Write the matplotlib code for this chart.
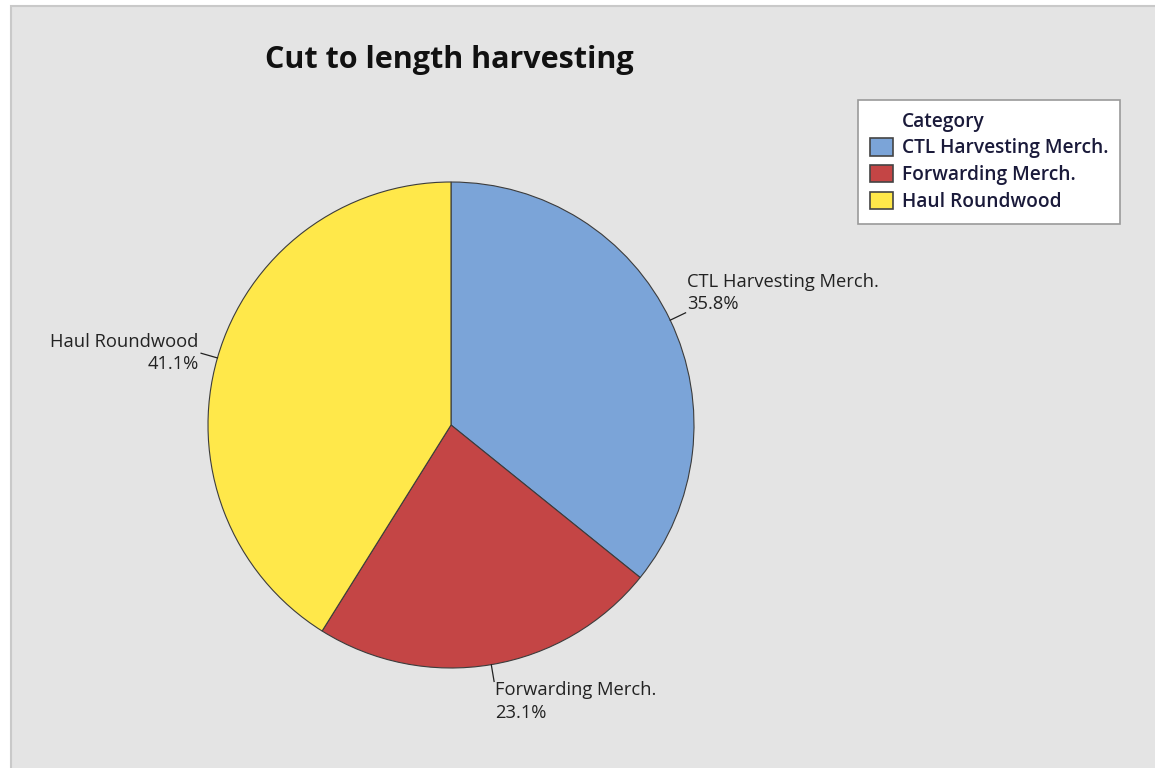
import numpy as np
import matplotlib.pyplot as plt
from matplotlib.patches import Patch, Rectangle

categories = ["CTL Harvesting Merch.", "Forwarding Merch.", "Haul Roundwood"]
percents = [35.8, 23.1, 41.1]
colors = ["#7ba4d8", "#c44545", "#ffe84a"]
label_va = ["bottom", "top", "center"]

plt.rcParams['font.family'] = ['Open Sans', 'DejaVu Sans']

fig = plt.figure(figsize=(11.55, 7.68), dpi=100, facecolor='white')

# grey panel with thin border (white margin at top/left)
fig.patches.append(Rectangle((11 / 1155, -0.01), 1.0, 1 - 6 / 768 + 0.01,
                             transform=fig.transFigure, facecolor='#e4e4e4',
                             edgecolor='#c9c9c9', linewidth=1.5, zorder=-5))

ax = fig.add_axes([(451 - 243) / 1155, (768 - 425 - 243) / 768, 486 / 1155, 486 / 768])
ax.set_facecolor('none')
ax.set_zorder(2)

wedges, _ = ax.pie(percents, colors=colors, startangle=90, counterclock=False,
                   radius=1, wedgeprops=dict(edgecolor='#3c3c3c', linewidth=0.8))
ax.set_xlim(-1, 1)
ax.set_ylim(-1, 1)
ax.set_aspect('equal')
ax.axis('off')

for w, cat, pct, va in zip(wedges, categories, percents, label_va):
    ang = np.deg2rad((w.theta1 + w.theta2) / 2)
    c, s = np.cos(ang), np.sin(ang)
    ax.plot([c, 1.07 * c], [s, 1.07 * s], color='#222222', lw=0.9, clip_on=False)
    ha = 'left' if c > 0 else 'right'
    ax.text(1.07 * c + (0.005 if c > 0 else -0.01), 1.07 * s, f"{cat}\n{pct}%",
            ha=ha, va=va, multialignment=ha,
            fontsize=13.2, color='#222222', linespacing=1.3)

fig.text(449 / 1155, 1 - 60 / 768, "Cut to length harvesting", ha='center', va='center',
         fontsize=22, fontweight='bold', color='#111111')

handles = [Patch(facecolor='none', edgecolor='none')] + \
          [Patch(facecolor=col, edgecolor='#444444', linewidth=1.2) for col in colors]
labels = ["Category"] + categories
leg = fig.legend(handles, labels, loc='upper left',
                 bbox_to_anchor=(858 / 1155, 1 - 100 / 768),
                 frameon=True, fancybox=False, shadow=False, fontsize=13.8,
                 framealpha=1, handlelength=1.2, handleheight=1.0, handletextpad=0.5,
                 labelspacing=0.35, borderpad=0.6, borderaxespad=0)
leg.get_frame().set_facecolor('white')
leg.get_frame().set_edgecolor('#9a9a9a')
leg.get_frame().set_linewidth(1.2)
for t in leg.get_texts():
    t.set_fontweight('semibold')
    t.set_color('#1a1a3a')

plt.savefig('out.png', dpi=100, facecolor=fig.get_facecolor())
plt.close()
